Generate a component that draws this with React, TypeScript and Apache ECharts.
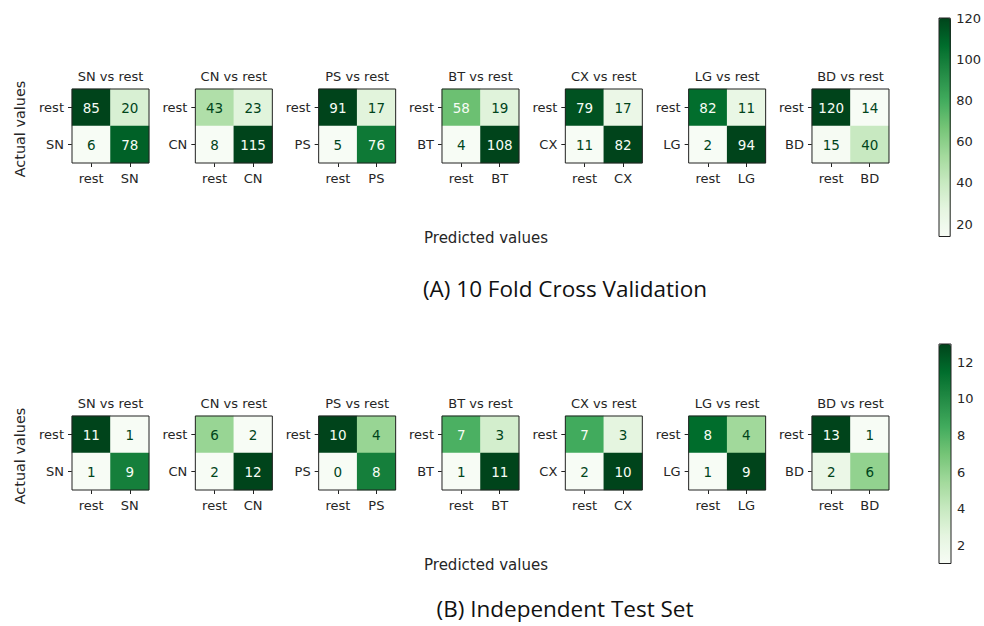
import React, { useEffect, useRef } from "react";
import * as echarts from "echarts";

// Class names for the one-vs-rest confusion matrices
const classes = ["SN", "CN", "PS", "BT", "CX", "LG", "BD"];

// 10-fold cross validation: [[rest->rest, rest->cls], [cls->rest, cls->cls]]
const cvSN = [[85, 20], [6, 78]];
const cvCN = [[43, 23], [8, 115]];
const cvPS = [[91, 17], [5, 76]];
const cvBT = [[58, 19], [4, 108]];
const cvCX = [[79, 17], [11, 82]];
const cvLG = [[82, 11], [2, 94]];
const cvBD = [[120, 14], [15, 40]];

// Independent test set
const testSN = [[11, 1], [1, 9]];
const testCN = [[6, 2], [2, 12]];
const testPS = [[10, 4], [0, 8]];
const testBT = [[7, 3], [1, 11]];
const testCX = [[7, 3], [2, 10]];
const testLG = [[8, 4], [1, 9]];
const testBD = [[13, 1], [2, 6]];

const cvMatrices = [cvSN, cvCN, cvPS, cvBT, cvCX, cvLG, cvBD];
const testMatrices = [testSN, testCN, testPS, testBT, testCX, testLG, testBD];

// Colour bar tick labels
const cvBarTicks = [20, 40, 60, 80, 100, 120];
const testBarTicks = [2, 4, 6, 8, 10, 12];

const captions = ["(A) 10 Fold Cross Validation", "(B) Independent Test Set"];

// matplotlib "Greens"
const greens = [
  "#f7fcf5", "#e5f5e0", "#c7e9c0", "#a1d99b", "#74c476",
  "#41ab5d", "#238b45", "#006d2c", "#00441b",
];

const TXT = "#262626";
const FONT = "DejaVu Sans";

export default function App() {
  const ref = useRef<HTMLDivElement>(null);

  useEffect(() => {
    if (!ref.current) return;
    const chart = echarts.init(ref.current, undefined, { renderer: "svg" });

    const rows = [
      { mats: cvMatrices, top: 89, height: 74, ticks: cvBarTicks, barTop: 18, barH: 218.5, capY: 288 },
      { mats: testMatrices, top: 416, height: 74, ticks: testBarTicks, barTop: 344, barH: 219.5, capY: 608 },
    ];
    const left0 = 72;
    const step = 123.33;
    const cellW = 77;

    const grids: any[] = [];
    const xAxes: any[] = [];
    const yAxes: any[] = [];
    const series: any[] = [];
    const visualMaps: any[] = [];
    const graphics: any[] = [];

    rows.forEach((row, r) => {
      row.mats.forEach((m, i) => {
        const gi = grids.length;
        const left = left0 + i * step;
        grids.push({
          left, top: row.top, width: cellW, height: row.height,
          show: true, borderColor: "#222", borderWidth: 1, z: 3,
          backgroundColor: "transparent",
        });
        const cats = ["rest", classes[i]];
        const axisCommon = {
          type: "category",
          gridIndex: gi,
          data: cats,
          axisLine: { show: false },
          axisTick: { show: true, alignWithLabel: true, length: 4, lineStyle: { color: "#222" } },
          axisLabel: { color: TXT, fontSize: 13, fontFamily: FONT, margin: 8 },
          splitLine: { show: false },
        };
        xAxes.push({ ...axisCommon, position: "bottom", axisLabel: { ...axisCommon.axisLabel, margin: 9 } });
        yAxes.push({ ...axisCommon, position: "left", inverse: true });

        const flat = m.flat();
        const lo = Math.min(...flat);
        const hi = Math.max(...flat);
        const thresh = (lo + hi) / 2;
        const data: any[] = [];
        m.forEach((rowVals, a) =>
          rowVals.forEach((v, p) => {
            data.push({
              value: [p, a, v],
              label: { color: v < thresh ? greens[8] : greens[0] },
            });
          })
        );
        const si = series.length;
        series.push({
          type: "heatmap",
          xAxisIndex: gi,
          yAxisIndex: gi,
          data,
          label: { show: true, fontSize: 13.5, fontFamily: FONT },
          emphasis: { disabled: true },
          itemStyle: { borderWidth: 0 },
        });

        const isLast = i === row.mats.length - 1;
        visualMaps.push({
          type: "continuous",
          seriesIndex: si,
          min: lo,
          max: hi,
          dimension: 2,
          inRange: { color: greens },
          show: isLast,
          calculable: false,
          hoverLink: false,
          left: 939,
          top: row.barTop,
          itemWidth: 12,
          itemHeight: row.barH,
          padding: 0,
          text: null,
          showLabel: false,
        });

        graphics.push({
          type: "text",
          x: left + cellW / 2,
          y: row.top - 13,
          style: {
            text: `${classes[i]} vs rest`, fill: TXT, fontSize: 13, fontFamily: FONT,
            textAlign: "center", textVerticalAlign: "middle",
          },
        });

        if (isLast) {
          // colour bar frame and ticks
          const cg = grids.length;
          grids.push({
            left: 939, top: row.barTop, width: 12, height: row.barH,
            show: true, borderColor: "#222", borderWidth: 1, z: 10,
            backgroundColor: "transparent",
          });
          xAxes.push({ type: "value", gridIndex: cg, show: false, min: 0, max: 1 });
          yAxes.push({
            type: "value",
            gridIndex: cg,
            position: "right",
            min: lo,
            max: hi,
            axisLine: { show: false },
            splitLine: { show: false },
            axisTick: { show: true, length: 4, customValues: row.ticks, lineStyle: { color: "#222" } },
            axisLabel: { color: TXT, fontSize: 13, fontFamily: FONT, margin: 6, customValues: row.ticks },
          });
        }
      });

      const midY = row.top + row.height / 2;
      graphics.push({
        type: "text",
        x: 20,
        y: midY + 3,
        rotation: Math.PI / 2,
        style: {
          text: "Actual values", fill: TXT, fontSize: 14.4, fontFamily: FONT,
          textAlign: "center", textVerticalAlign: "middle",
        },
      });
      graphics.push({
        type: "text",
        x: 486,
        y: row.top + row.height + 75,
        style: {
          text: "Predicted values", fill: TXT, fontSize: 15, fontFamily: FONT,
          textAlign: "center", textVerticalAlign: "middle",
        },
      });
      graphics.push({
        type: "text",
        x: 565,
        y: row.capY,
        style: {
          text: captions[r], fill: "#111", fontSize: 22.5, fontFamily: "Open Sans",
          textAlign: "center", textVerticalAlign: "middle",
        },
      });
    });

    chart.setOption({
      animation: false,
      backgroundColor: "#ffffff",
      grid: grids,
      xAxis: xAxes,
      yAxis: yAxes,
      series,
      visualMap: visualMaps,
      graphic: graphics,
    });

    return () => chart.dispose();
  }, []);

  return (
    <div
      ref={ref}
      style={{ position: "fixed", left: 0, top: 0, width: 984, height: 626 }}
    />
  );
}
